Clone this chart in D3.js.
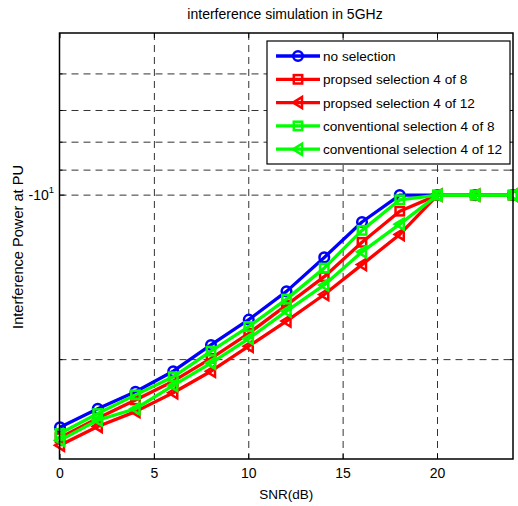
<!DOCTYPE html>
<html lang="en">
<head>
    <meta charset="UTF-8">
    <title>interference simulation in 5GHz</title>
    <style>
        body { margin: 0; background: #fff; }
        text { font-family: "Liberation Sans", Arial, sans-serif; fill: #000; }
        .grid line { stroke: #333; stroke-dasharray: 7,5; stroke-width: 1; }
    </style>
</head>
<body>
    <svg id="chart" width="518" height="506"></svg>

    <script src="https://cdn.jsdelivr.net/npm/d3@7"></script>
    <script>
        // SNR values (dB)
        const snr = [0, 2, 4, 6, 8, 10, 12, 14, 16, 18, 20, 22, 24];

        const noSelection   = [-26.6, -24.6, -22.9, -21.0, -18.8, -16.9, -15.0, -13.0, -11.2, -10.0, -10.0, -10.0, -10.0];
        const propSel4of8   = [-27.8, -25.6, -23.7, -21.9, -19.9, -17.9, -15.9, -14.1, -12.2, -10.7, -10.0, -10.0, -10.0];
        const propSel4of12  = [-28.7, -26.5, -24.9, -23.0, -21.0, -18.9, -17.0, -15.2, -13.4, -11.8, -10.0, -10.0, -10.0];
        const convSel4of8   = [-27.3, -25.1, -23.2, -21.5, -19.3, -17.4, -15.5, -13.6, -11.6, -10.2, -10.0, -10.0, -10.0];
        const convSel4of12  = [-28.1, -25.8, -24.6, -22.3, -20.3, -18.3, -16.3, -14.6, -12.7, -11.3, -10.0, -10.0, -10.0];

        const xTicks = [0, 5, 10, 15, 20];
        const yGrid = [-6, -7, -8, -9, -10, -20];

        const series = [
            { name: "no selection", values: noSelection, color: "#0000ff", marker: "circle" },
            { name: "propsed selection 4 of 8", values: propSel4of8, color: "#ff0000", marker: "square" },
            { name: "propsed selection 4 of 12", values: propSel4of12, color: "#ff0000", marker: "triangle" },
            { name: "conventional selection 4 of 8", values: convSel4of8, color: "#00ff00", marker: "square" },
            { name: "conventional selection 4 of 12", values: convSel4of12, color: "#00ff00", marker: "triangle" }
        ];

        const box = { left: 59.5, right: 513, top: 33, bottom: 459 };

        const svg = d3.select("#chart");

        const x = d3.scaleLinear().domain([0, 24]).range([box.left + 0.5, box.right]);
        const y = d3.scaleLog().domain([-30.4, -5.05]).range([box.bottom, box.top]);

        // grid
        const grid = svg.append("g").attr("class", "grid");
        grid.selectAll(".vg").data(xTicks.filter(d => d > 0)).enter().append("line")
            .attr("x1", d => x(d)).attr("x2", d => x(d))
            .attr("y1", box.top).attr("y2", box.bottom);
        grid.selectAll(".hg").data(yGrid).enter().append("line")
            .attr("x1", box.left).attr("x2", box.right)
            .attr("y1", d => y(d)).attr("y2", d => y(d));

        // ticks inside the box
        const ticks = svg.append("g").attr("stroke", "#000").attr("stroke-width", 1);
        xTicks.forEach(t => {
            ticks.append("line").attr("x1", x(t)).attr("x2", x(t)).attr("y1", box.bottom).attr("y2", box.bottom - 5);
            ticks.append("line").attr("x1", x(t)).attr("x2", x(t)).attr("y1", box.top).attr("y2", box.top + 5);
        });
        yGrid.forEach(t => {
            const len = t === -10 ? 5 : 3;
            ticks.append("line").attr("x1", box.left).attr("x2", box.left + len).attr("y1", y(t)).attr("y2", y(t));
            ticks.append("line").attr("x1", box.right).attr("x2", box.right - len).attr("y1", y(t)).attr("y2", y(t));
        });

        // tick labels
        svg.selectAll(".xl").data(xTicks).enter().append("text")
            .attr("x", d => x(d)).attr("y", 478)
            .attr("text-anchor", "middle").attr("font-size", 14)
            .text(d => d);

        const yl = svg.append("text").attr("x", 54).attr("y", y(-10) + 5)
            .attr("text-anchor", "end").attr("font-size", 14);
        yl.append("tspan").text("-10");
        yl.append("tspan").attr("dy", -7).attr("font-size", 9.5).text("1");

        // lines and markers
        const line = d3.line().x((d, i) => x(snr[i])).y(d => y(d));

        function drawMarker(g, type, color, cx, cy) {
            if (type === "circle") {
                g.append("circle").attr("cx", cx).attr("cy", cy).attr("r", 4.8)
                    .attr("fill", "none").attr("stroke", color).attr("stroke-width", 2.5);
            } else if (type === "square") {
                g.append("rect").attr("x", cx - 4.2).attr("y", cy - 4.2).attr("width", 8.4).attr("height", 8.4)
                    .attr("fill", "none").attr("stroke", color).attr("stroke-width", 2.5);
            } else {
                g.append("path").attr("d", `M${cx - 5},${cy} L${cx + 4},${cy - 5.5} L${cx + 4},${cy + 5.5} Z`)
                    .attr("fill", "none").attr("stroke", color).attr("stroke-width", 2.5);
            }
        }

        series.forEach(s => {
            const g = svg.append("g");
            g.append("path").datum(s.values).attr("d", line)
                .attr("fill", "none").attr("stroke", s.color).attr("stroke-width", 3.3)
                .attr("stroke-linejoin", "round");
            s.values.forEach((v, i) => drawMarker(g, s.marker, s.color, x(snr[i]), y(v)));
        });

        // axes box
        svg.append("rect").attr("x", box.left).attr("y", box.top)
            .attr("width", box.right - box.left).attr("height", box.bottom - box.top)
            .attr("fill", "none").attr("stroke", "#000").attr("stroke-width", 1.5);

        // legend
        const lg = svg.append("g");
        lg.append("rect").attr("x", 267).attr("y", 41).attr("width", 243).attr("height", 123)
            .attr("fill", "#fff").attr("stroke", "#000").attr("stroke-width", 1.2);
        series.forEach((s, i) => {
            const ly = 56 + i * 23.3;
            lg.append("line").attr("x1", 276).attr("x2", 320).attr("y1", ly).attr("y2", ly)
                .attr("stroke", s.color).attr("stroke-width", 3.3);
            drawMarker(lg, s.marker, s.color, 298, ly);
            lg.append("text").attr("x", 323).attr("y", ly + 5)
                .attr("font-size", 13.6).text(s.name);
        });

        // titles
        svg.append("text").attr("x", 285).attr("y", 19)
            .attr("text-anchor", "middle").attr("font-size", 14)
            .text("interference simulation in 5GHz");
        svg.append("text").attr("x", (box.left + box.right) / 2).attr("y", 499)
            .attr("text-anchor", "middle").attr("font-size", 13.5)
            .text("SNR(dB)");
        svg.append("text").attr("transform", `translate(23,247) rotate(-90)`)
            .attr("text-anchor", "middle").attr("font-size", 14.6)
            .text("Interference Power at PU");
    </script>
</body>
</html>
